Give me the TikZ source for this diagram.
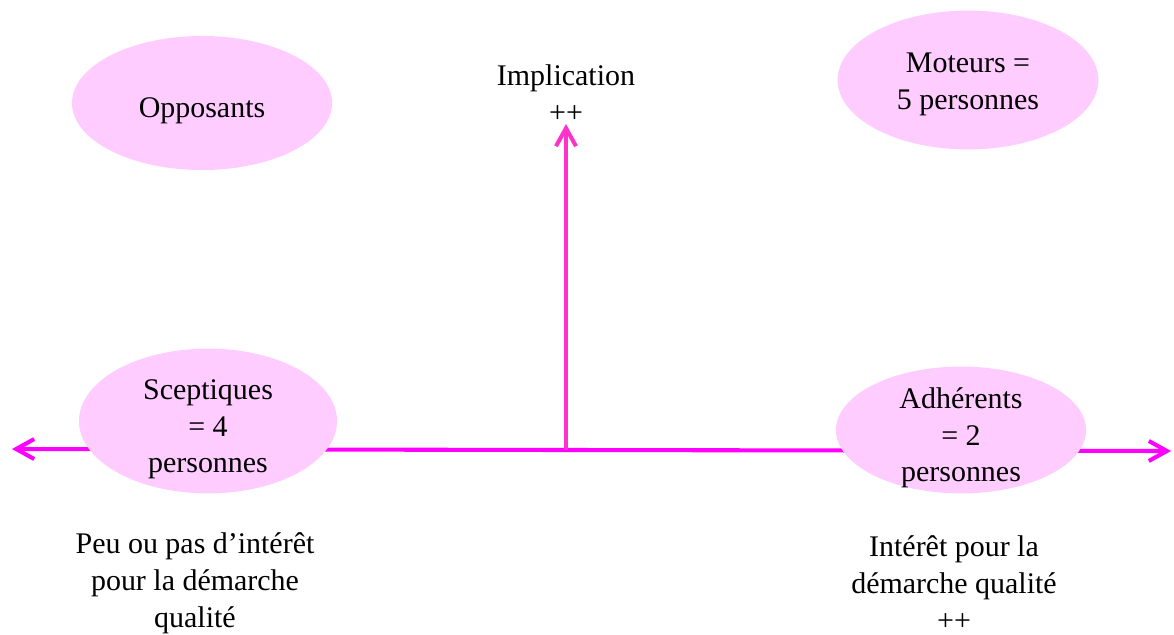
\documentclass[tikz,border=0pt]{standalone}
\usepackage{fontspec}
\setmainfont{Liberation Serif}
\usetikzlibrary{shapes.geometric, arrows.meta}

\definecolor{rose}{HTML}{FFCCFF}
\definecolor{axeh}{HTML}{FF00FF}
\definecolor{axev}{HTML}{FF33CC}

% texte d'un groupe, sans taille, abaisse de #1
\newcommand{\etiq}[2]{\raisebox{#1}[0pt][0pt]{\begin{tabular}{@{}c@{}}#2\end{tabular}}}

\begin{document}
\begin{tikzpicture}[x=0.025cm, y=-0.025cm, >={Straight Barb[length=4.5mm, width=5mm]},
    groupe/.style={ellipse, fill=rose, inner sep=0pt, font=\fontsize{21.3}{26.3}\selectfont},
    legende/.style={inner sep=0pt, align=center, font=\fontsize{21.3}{26.3}\selectfont},
    axe/.style={line width=2.9pt}]
    \useasboundingbox (0,0) rectangle (1174,635);

    % axes
    \coordinate (o) at (566,450);
    \coordinate (ouest) at (12,449);
    \coordinate (est) at (1171,451);
    \coordinate (nord) at (566,124);
    \draw[->, axe, axeh] (o) -- (ouest);
    \draw[->, axe, axeh] (o) -- (est);
    \draw[->, axe, axev] (o) -- (nord);

    \node[legende] (impl) at (566,94) {Implication\\++};

    % groupes
    \node[groupe, minimum width=6.5cm, minimum height=3.35cm] (opp) at (202,103) {\etiq{-10pt}{Opposants}};
    \node[groupe, minimum width=6.52cm, minimum height=3.47cm] (mot) at (968,80) {\etiq{-8pt}{Moteurs =\\5 personnes}};
    \node[groupe, minimum width=6.45cm, minimum height=3.62cm] (scep) at (208,421) {\etiq{-10.6pt}{Sceptiques\\= 4\\personnes}};
    \node[groupe, minimum width=6.25cm, minimum height=3.17cm] (adh) at (961,430) {\etiq{-10.6pt}{Adhérents\\= 2\\personnes}};

    \node[legende] (peu) at (195,583) {Peu ou pas d’intérêt\\pour la démarche\\qualité};
    \node[legende] (int) at (954,583) {Intérêt pour la\\démarche qualité\\++};
\end{tikzpicture}
\end{document}
